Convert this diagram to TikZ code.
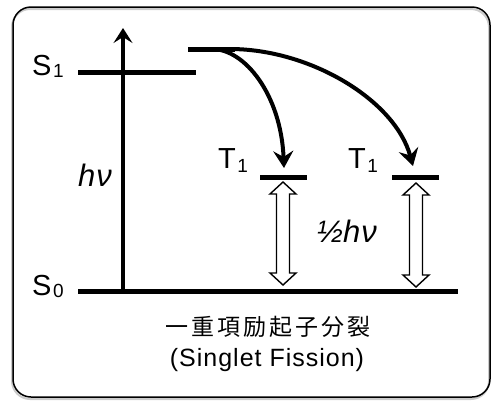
\documentclass[tikz,border=0pt]{standalone}
\usepackage{fontspec}
\setmainfont{Liberation Sans}
\newfontfamily\cjk[LetterSpace=13]{Noto Sans CJK JP}
\newfontfamily\lsp[LetterSpace=4]{Liberation Sans}
\usetikzlibrary{arrows.meta}
\tikzset{
  level/.style={line width=5pt},
  jump/.style={line width=4pt,-{Stealth[length=17pt,width=20pt,inset=6pt]}},
  gap/.style={draw=black,fill=white,line width=1.4pt,line join=miter},
  lbl/.style={inner sep=0pt,anchor=base west,font=\fontsize{29pt}{29pt}\selectfont},
  sym/.style={inner sep=0pt,anchor=base west,font=\fontsize{31pt}{31pt}\selectfont\itshape},
}
\newcommand\dblarr[3]{%
  \draw[gap] (#1,#2) -- (#1+13,#2+12) -- (#1+6.5,#2+12) -- (#1+6.5,#3-12)
   -- (#1+13,#3-12) -- (#1,#3) -- (#1-13,#3-12) -- (#1-6.5,#3-12)
   -- (#1-6.5,#2+12) -- (#1-13,#2+12) -- cycle;}
\begin{document}
\begin{tikzpicture}[x=1pt,y=-1pt]
\useasboundingbox (0,0) rectangle (493,400);
% frame
\draw[black!20,line width=2pt,rounded corners=18pt] (12,9) rectangle (489,399);
\draw[black,line width=1.5pt,rounded corners=18pt] (13,7) rectangle (490,397);
% levels
\coordinate (s1a) at (78,72.5);  \coordinate (s1b) at (196,72.5);
\coordinate (s0a) at (78,291);   \coordinate (s0b) at (458,291);
\coordinate (upa) at (188,49);   \coordinate (upb) at (235,49);
\coordinate (taa) at (260,177);  \coordinate (tab) at (307,177);
\coordinate (tba) at (392,177);  \coordinate (tbb) at (439,177);
\coordinate (vb) at (123,293);   \coordinate (vt) at (123,28);
\draw[level] (s1a) -- (s1b);
\draw[level] (s0a) -- (s0b);
\draw[level] (upa) -- (upb);
\draw[level] (taa) -- (tab);
\draw[level] (tba) -- (tbb);
\draw[line width=4.5pt,-{Stealth[length=15pt,width=19pt,inset=6pt]}] (vb) -- (vt);
% fission arrows
\coordinate (c1s) at (212,49); \coordinate (c1e) at (284,168);
\coordinate (c2s) at (230,49); \coordinate (c2e) at (413,166);
\draw[jump] (c1s) .. controls (245,49) and (281,95) .. (c1e);
\draw[jump] (c2s) .. controls (310,49) and (395,100) .. (c2e);
% half-energy arrows
\dblarr{283}{182}{285}
\dblarr{416}{183}{287}
% labels
\node[lbl] (ls1) at (32,75) {S\kern1.5pt{\fontsize{19pt}{19pt}\selectfont\raisebox{-2pt}{1}}};
\node[lbl] (ls0) at (32,295) {S\kern1.5pt{\fontsize{19pt}{19pt}\selectfont\raisebox{-2pt}{0}}};
\node[lbl] (lt1) at (218,168) {T\kern1.5pt{\fontsize{19pt}{19pt}\selectfont\raisebox{-4pt}{1}}};
\node[lbl] (lt2) at (348,168) {T\kern1.5pt{\fontsize{19pt}{19pt}\selectfont\raisebox{-4pt}{1}}};
\node[sym] (hv) at (78,186) {h\kern1pt ν};
\node[sym] (half) at (317,242) {½h\kern1pt ν};
\node[inner sep=0pt,anchor=base] (cn) at (268,335) {\fontsize{23pt}{23pt}\selectfont\cjk 一重項励起子分裂};
\node[inner sep=0pt,anchor=base] (en) at (267,366) {\fontsize{25pt}{25pt}\selectfont\lsp (Singlet Fission)};
\end{tikzpicture}
\end{document}
